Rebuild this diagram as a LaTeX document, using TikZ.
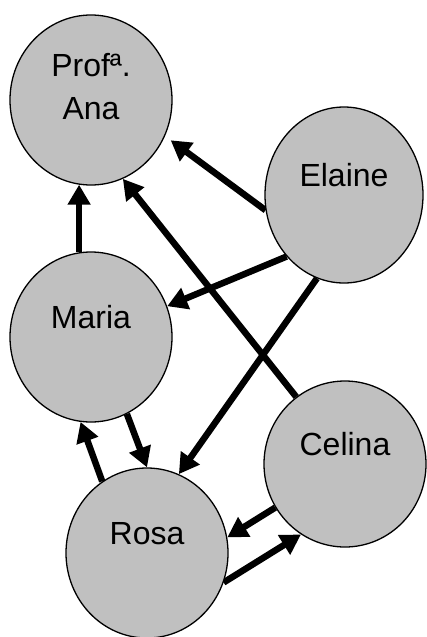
\documentclass[tikz,border=0pt]{standalone}
\usepackage{fontspec}
\setmainfont{Liberation Sans}
\usetikzlibrary{shapes.geometric,arrows.meta,backgrounds}
\definecolor{discgray}{RGB}{192,192,192}
\tikzset{
  pessoa/.style={ellipse, draw=black, line width=1.3pt, fill=discgray,
    minimum width=162pt, minimum height=170pt, inner sep=0pt,
    text height=23pt, text depth=41pt, align=center,
    font=\fontsize{32}{43}\selectfont},
  seta/.style={line width=6.5pt, -{Triangle[length=20pt,width=22pt]}}
}
\begin{document}
\begin{tikzpicture}[x=1pt,y=1pt]
  \useasboundingbox (0,0) rectangle (426,-637);
  % the five people
  \node[pessoa, text height=66pt, text depth=28pt] (ana) at (91,-100) {Profª.\\Ana};
  \node[pessoa, minimum width=158pt, minimum height=176pt] (elaine) at (344,-195) {Elaine};
  \node[pessoa] (maria) at (91,-337) {Maria};
  \node[pessoa, minimum height=166pt] (celina) at (345,-464) {Celina};
  \node[pessoa] (rosa) at (147,-553) {Rosa};
  % arrows go under the discs
  \begin{pgfonlayer}{background}
    \draw[seta] (maria.98) -- (ana.262);
    \draw[seta, shorten >=7pt] (elaine.191) -- (ana.334);
    \draw[seta] (celina.126) -- (ana.292);
    \draw[seta] (elaine.227) -- (maria.22);
    \draw[seta] (elaine.252) -- (rosa.68);
    \draw[seta] (maria.295) -- (rosa.north);
    \draw[seta] (rosa.122) -- (maria.263);
    \draw[seta] (celina.212) -- (rosa.11);
    \draw[seta] (rosa.339) -- (celina.238);
  \end{pgfonlayer}
\end{tikzpicture}
\end{document}
